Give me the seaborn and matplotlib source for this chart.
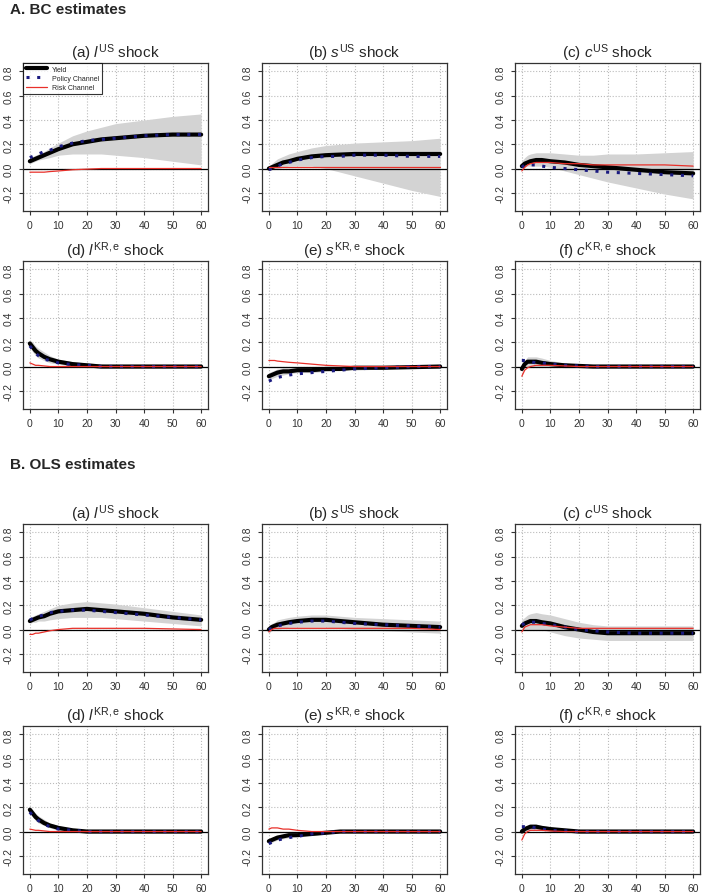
import numpy as np
import pandas as pd
import matplotlib.pyplot as plt
import seaborn as sns

h = [0, 1, 2, 3, 5, 7, 10, 15, 20, 25, 30, 40, 50, 60]
shocks = [r"(a) $l^{\mathrm{US}}$ shock", r"(b) $s^{\mathrm{US}}$ shock", r"(c) $c^{\mathrm{US}}$ shock",
          r"(d) $l^{\mathrm{KR,e}}$ shock", r"(e) $s^{\mathrm{KR,e}}$ shock", r"(f) $c^{\mathrm{KR,e}}$ shock"]

# BC estimates
bc_yield = [
    [0.06, 0.07, 0.08, 0.09, 0.11, 0.13, 0.16, 0.20, 0.22, 0.24, 0.25, 0.27, 0.28, 0.28],
    [0.00, 0.01, 0.02, 0.03, 0.05, 0.06, 0.08, 0.10, 0.11, 0.115, 0.12, 0.12, 0.12, 0.12],
    [0.02, 0.04, 0.05, 0.06, 0.07, 0.07, 0.06, 0.05, 0.03, 0.02, 0.01, -0.01, -0.03, -0.04],
    [0.19, 0.16, 0.13, 0.11, 0.08, 0.06, 0.04, 0.02, 0.01, 0.0, 0.0, 0.0, 0.0, 0.0],
    [-0.08, -0.07, -0.06, -0.05, -0.04, -0.04, -0.03, -0.03, -0.02, -0.02, -0.01, -0.01, -0.005, 0.0],
    [-0.02, 0.02, 0.04, 0.04, 0.04, 0.03, 0.02, 0.01, 0.005, 0.0, 0.0, 0.0, 0.0, 0.0]]
bc_policy = [
    [0.09, 0.10, 0.11, 0.12, 0.14, 0.15, 0.18, 0.21, 0.23, 0.24, 0.25, 0.27, 0.28, 0.28],
    [-0.01, 0.0, 0.01, 0.02, 0.04, 0.05, 0.07, 0.09, 0.10, 0.10, 0.11, 0.11, 0.10, 0.10],
    [0.01, 0.03, 0.03, 0.03, 0.03, 0.02, 0.01, 0.0, -0.01, -0.02, -0.03, -0.04, -0.05, -0.06],
    [0.17, 0.14, 0.11, 0.09, 0.06, 0.05, 0.03, 0.015, 0.01, 0.0, 0.0, 0.0, 0.0, 0.0],
    [-0.12, -0.11, -0.10, -0.09, -0.08, -0.07, -0.06, -0.05, -0.04, -0.03, -0.02, -0.01, 0.0, 0.0],
    [0.05, 0.05, 0.05, 0.04, 0.03, 0.03, 0.02, 0.01, 0.005, 0.0, 0.0, 0.0, 0.0, 0.0]]
bc_risk = [
    [-0.03, -0.03, -0.03, -0.03, -0.03, -0.025, -0.02, -0.01, -0.005, 0.0, 0.0, 0.0, 0.0, 0.0],
    [0.01, 0.01, 0.01, 0.01, 0.01, 0.01, 0.01, 0.01, 0.01, 0.01, 0.01, 0.01, 0.01, 0.01],
    [-0.02, 0.01, 0.03, 0.04, 0.05, 0.05, 0.05, 0.04, 0.04, 0.03, 0.03, 0.03, 0.03, 0.02],
    [0.03, 0.02, 0.01, 0.01, 0.005, 0.0, 0.0, 0.0, 0.0, 0.0, 0.0, 0.0, 0.0, 0.0],
    [0.05, 0.05, 0.05, 0.045, 0.04, 0.035, 0.03, 0.02, 0.01, 0.005, 0.0, 0.0, 0.0, 0.0],
    [-0.08, -0.03, -0.01, 0.0, 0.01, 0.01, 0.01, 0.005, 0.0, 0.0, 0.0, 0.0, 0.0, 0.0]]
bc_lo = [
    [0.04, 0.05, 0.06, 0.07, 0.08, 0.09, 0.11, 0.12, 0.12, 0.12, 0.11, 0.09, 0.06, 0.03],
    [-0.02, -0.01, 0.0, 0.0, 0.01, 0.02, 0.02, 0.02, 0.0, -0.03, -0.06, -0.12, -0.18, -0.23],
    [0.0, 0.01, 0.02, 0.02, 0.02, 0.02, 0.01, -0.02, -0.05, -0.08, -0.11, -0.16, -0.21, -0.25],
    [0.16, 0.12, 0.09, 0.07, 0.05, 0.03, 0.02, 0.0, -0.01, -0.01, -0.01, -0.01, -0.01, -0.01],
    [-0.11, -0.10, -0.09, -0.08, -0.07, -0.06, -0.05, -0.05, -0.04, -0.03, -0.03, -0.02, -0.01, -0.01],
    [-0.05, -0.01, 0.0, 0.0, 0.0, 0.0, 0.0, -0.01, -0.01, -0.01, -0.01, -0.01, -0.01, -0.01]]
bc_hi = [
    [0.08, 0.10, 0.11, 0.12, 0.14, 0.17, 0.21, 0.27, 0.31, 0.34, 0.37, 0.40, 0.43, 0.45],
    [0.02, 0.04, 0.06, 0.08, 0.10, 0.12, 0.14, 0.17, 0.19, 0.20, 0.21, 0.22, 0.23, 0.25],
    [0.06, 0.09, 0.11, 0.12, 0.13, 0.13, 0.13, 0.12, 0.11, 0.11, 0.12, 0.12, 0.13, 0.14],
    [0.22, 0.20, 0.17, 0.15, 0.12, 0.09, 0.06, 0.04, 0.03, 0.02, 0.01, 0.01, 0.01, 0.01],
    [-0.05, -0.04, -0.03, -0.02, -0.01, -0.01, -0.01, 0.0, 0.0, 0.0, 0.0, 0.0, 0.0, 0.01],
    [0.01, 0.05, 0.08, 0.08, 0.08, 0.07, 0.05, 0.03, 0.02, 0.01, 0.01, 0.01, 0.01, 0.01]]

# OLS estimates
ols_yield = [
    [0.07, 0.08, 0.09, 0.10, 0.11, 0.13, 0.15, 0.16, 0.17, 0.16, 0.15, 0.13, 0.10, 0.08],
    [0.0, 0.02, 0.03, 0.04, 0.05, 0.06, 0.07, 0.08, 0.08, 0.07, 0.06, 0.04, 0.03, 0.02],
    [0.03, 0.05, 0.06, 0.07, 0.07, 0.06, 0.05, 0.02, 0.0, -0.02, -0.03, -0.03, -0.03, -0.03],
    [0.18, 0.15, 0.12, 0.10, 0.07, 0.05, 0.03, 0.01, 0.0, 0.0, 0.0, 0.0, 0.0, 0.0],
    [-0.08, -0.07, -0.06, -0.05, -0.04, -0.03, -0.03, -0.02, -0.01, 0.0, 0.0, 0.0, 0.0, 0.0],
    [0.0, 0.02, 0.03, 0.04, 0.04, 0.03, 0.02, 0.01, 0.0, 0.0, 0.0, 0.0, 0.0, 0.0]]
ols_policy = [
    [0.08, 0.09, 0.10, 0.11, 0.12, 0.14, 0.15, 0.16, 0.16, 0.15, 0.14, 0.12, 0.10, 0.08],
    [0.0, 0.01, 0.02, 0.03, 0.04, 0.05, 0.06, 0.07, 0.07, 0.06, 0.05, 0.04, 0.03, 0.02],
    [0.04, 0.05, 0.06, 0.06, 0.06, 0.05, 0.04, 0.02, 0.0, -0.01, -0.02, -0.03, -0.03, -0.03],
    [0.16, 0.13, 0.11, 0.09, 0.06, 0.04, 0.02, 0.01, 0.0, 0.0, 0.0, 0.0, 0.0, 0.0],
    [-0.10, -0.09, -0.08, -0.07, -0.06, -0.05, -0.04, -0.02, -0.01, 0.0, 0.0, 0.0, 0.0, 0.0],
    [0.04, 0.04, 0.04, 0.04, 0.03, 0.02, 0.01, 0.005, 0.0, 0.0, 0.0, 0.0, 0.0, 0.0]]
ols_risk = [
    [-0.04, -0.04, -0.03, -0.03, -0.02, -0.01, 0.0, 0.01, 0.01, 0.01, 0.01, 0.01, 0.005, 0.0],
    [-0.02, 0.0, 0.01, 0.01, 0.01, 0.01, 0.01, 0.01, 0.01, 0.01, 0.01, 0.01, 0.01, 0.0],
    [-0.02, 0.02, 0.03, 0.04, 0.04, 0.04, 0.03, 0.02, 0.01, 0.01, 0.01, 0.01, 0.01, 0.01],
    [0.02, 0.015, 0.01, 0.01, 0.005, 0.0, 0.0, 0.0, 0.0, 0.0, 0.0, 0.0, 0.0, 0.0],
    [0.02, 0.03, 0.03, 0.03, 0.02, 0.02, 0.01, 0.0, 0.0, 0.0, 0.0, 0.0, 0.0, 0.0],
    [-0.07, -0.02, 0.0, 0.01, 0.01, 0.01, 0.005, 0.0, 0.0, 0.0, 0.0, 0.0, 0.0, 0.0]]
ols_lo = [
    [0.05, 0.06, 0.06, 0.07, 0.07, 0.08, 0.09, 0.10, 0.10, 0.10, 0.09, 0.07, 0.05, 0.03],
    [-0.03, -0.01, 0.0, 0.0, 0.01, 0.02, 0.02, 0.02, 0.02, 0.01, 0.0, -0.01, -0.02, -0.03],
    [-0.01, 0.0, 0.0, 0.0, 0.0, 0.0, -0.02, -0.05, -0.07, -0.08, -0.09, -0.09, -0.09, -0.09],
    [0.15, 0.12, 0.09, 0.07, 0.05, 0.03, 0.01, 0.0, -0.01, -0.01, -0.01, -0.01, -0.01, -0.01],
    [-0.10, -0.09, -0.08, -0.07, -0.06, -0.05, -0.04, -0.03, -0.02, -0.01, -0.01, -0.01, -0.01, -0.01],
    [-0.02, 0.0, 0.01, 0.01, 0.01, 0.01, 0.0, -0.01, -0.01, -0.01, -0.01, -0.01, -0.01, -0.01]]
ols_hi = [
    [0.10, 0.11, 0.12, 0.13, 0.15, 0.17, 0.20, 0.22, 0.23, 0.22, 0.21, 0.18, 0.15, 0.12],
    [0.03, 0.05, 0.06, 0.08, 0.09, 0.10, 0.11, 0.12, 0.12, 0.11, 0.10, 0.09, 0.08, 0.07],
    [0.08, 0.10, 0.12, 0.13, 0.14, 0.13, 0.12, 0.09, 0.06, 0.04, 0.03, 0.03, 0.03, 0.03],
    [0.21, 0.18, 0.15, 0.13, 0.10, 0.07, 0.05, 0.02, 0.01, 0.01, 0.01, 0.01, 0.01, 0.01],
    [-0.06, -0.05, -0.04, -0.03, -0.02, -0.02, -0.01, -0.01, 0.0, 0.01, 0.01, 0.01, 0.01, 0.01],
    [0.03, 0.04, 0.05, 0.06, 0.06, 0.05, 0.04, 0.02, 0.01, 0.01, 0.01, 0.01, 0.01, 0.01]]

sns.set_style("white")
plt.rcParams['font.family'] = ['Liberation Sans', 'DejaVu Sans']
plt.rcParams['mathtext.fontset'] = 'custom'
plt.rcParams['mathtext.rm'] = 'Liberation Sans'
plt.rcParams['mathtext.it'] = 'Liberation Sans:italic'

W, H = 712, 895
fig = plt.figure(figsize=(W / 100, H / 100), dpi=100)
col_left = [23, 262, 515]
row_top = [64, 262, 525, 727]
aw, ah = 185, 148

fig.text(10 / W, 1 - 10 / H, "A. BC estimates", fontsize=11, fontweight='bold', va='center')
fig.text(10 / W, 1 - 465 / H, "B. OLS estimates", fontsize=11, fontweight='bold', va='center')

sets = [(bc_yield, bc_policy, bc_risk, bc_lo, bc_hi), (ols_yield, ols_policy, ols_risk, ols_lo, ols_hi)]
for s, (yl, po, ri, lo, hi) in enumerate(sets):
    for k in range(6):
        r = 2 * s + k // 3
        c = k % 3
        ax = fig.add_axes([col_left[c] / W, 1 - (row_top[r] + ah) / H, aw / W, ah / H])
        ax.fill_between(h, lo[k], hi[k], color='#d3d3d3', lw=0)
        ax.axhline(0, color='black', lw=0.9)
        df = pd.DataFrame({'h': h, 'Yield': yl[k], 'Policy Channel': po[k], 'Risk Channel': ri[k]})
        sns.lineplot(data=df, x='h', y='Yield', ax=ax, color='black', lw=3, label='Yield')
        sns.lineplot(data=df, x='h', y='Policy Channel', ax=ax, color='#1a1a80', lw=2.2,
                     ls=(0, (1, 2.5)), label='Policy Channel')
        sns.lineplot(data=df, x='h', y='Risk Channel', ax=ax, color='#e8302a', lw=0.9, label='Risk Channel')
        ax.set_xlim(-2.4, 62.4)
        ax.set_ylim(-0.35, 0.87)
        ax.set_xticks(range(0, 61, 10))
        ax.set_yticks([-0.2, 0.0, 0.2, 0.4, 0.6, 0.8])
        ax.set_yticklabels(['-0.2', '0.0', '0.2', '0.4', '0.6', '0.8'], rotation=90, va='center')
        ax.tick_params(labelsize=7.5, length=3, colors='#333333', direction='out', left=True, bottom=True)
        ax.grid(True, ls=':', color='#bbbbbb', lw=0.8)
        ax.set_xlabel('')
        ax.set_ylabel('')
        for sp in ax.spines.values():
            sp.set_color('#333333')
            sp.set_linewidth(0.9)
        ax.set_title(shocks[k], fontsize=11, pad=4)
        if s == 0 and k == 0:
            leg = ax.legend(loc='upper left', fontsize=5, frameon=True, fancybox=False,
                            borderaxespad=0, handlelength=3, labelspacing=0.3)
            leg.get_frame().set_edgecolor('black')
            leg.get_frame().set_linewidth(0.8)
        else:
            ax.get_legend().remove()

fig.savefig("out.png", dpi=100)
